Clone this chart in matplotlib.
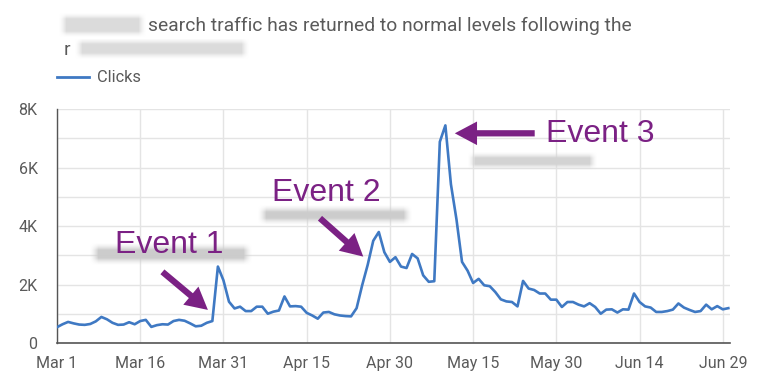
import numpy as np
import matplotlib
matplotlib.use("Agg")
import matplotlib.pyplot as plt
from matplotlib.patches import FancyArrowPatch

# ---------------- data ----------------
clicks = [550, 650, 730, 680, 640, 630, 660, 750, 900, 820,
          700, 630, 640, 720, 650, 760, 800, 560, 620, 650,
          640, 760, 800, 770, 680, 580, 600, 700, 760, 2620,
          2150, 1420, 1190, 1250, 1100, 1100, 1250, 1250, 1010, 1080,
          1120, 1600, 1260, 1270, 1250, 1040, 950, 840, 1050, 1070,
          990, 950, 930, 920, 1200, 1980, 2680, 3500, 3800, 3110,
          2780, 2940, 2620, 2570, 3050, 2900, 2320, 2100, 2120, 6880,
          7440, 5430, 4230, 2780, 2480, 2060, 2200, 1980, 1950, 1750,
          1500, 1430, 1410, 1260, 2130, 1870, 1820, 1700, 1700, 1490,
          1490, 1240, 1410, 1410, 1320, 1260, 1370, 1240, 1010, 1150,
          1160, 1050, 1160, 1150, 1700, 1410, 1260, 1220, 1070, 1070,
          1100, 1150, 1360, 1220, 1140, 1070, 1100, 1320, 1160, 1270,
          1160, 1200]
days = list(range(len(clicks)))  # days since Mar 1
x_tick_labels = ["Mar 1", "Mar 16", "Mar 31", "Apr 15", "Apr 30",
                 "May 15", "May 30", "Jun 14", "Jun 29"]
x_tick_step = 15
y_ticks = [0, 2000, 4000, 6000, 8000]
y_tick_labels = ["0", "2K", "4K", "6K", "8K"]
events = ["Event 1", "Event 2", "Event 3"]
series_name = "Clicks"
title_text = "search traffic has returned to normal levels following the"

# ---------------- style ----------------
W, H = 770, 385
BLUE = "#3f79c3"
PURPLE = "#7b2184"
GRID = "#e4e4e4"
TXT = "#5a5a5a"
FONT = "Roboto"

fig = plt.figure(figsize=(W / 100, H / 100), dpi=100)
fig.patch.set_facecolor("white")

def px(x, y):
    return x / W, 1 - y / H

ax_l, ax_r, ax_t, ax_b = 57, 730, 109, 343.3
ax = fig.add_axes([ax_l / W, 1 - ax_b / H, (ax_r - ax_l) / W, (ax_b - ax_t) / H])

ax.plot(days, clicks, color=BLUE, lw=1.9, solid_joinstyle="round", zorder=3)

XMAX = 121.3
ax.set_xlim(0, XMAX)
ax.set_ylim(0, 8000)
xt = [i * x_tick_step for i in range(len(x_tick_labels))]
ax.set_xticks(xt)
ax.set_xticklabels(x_tick_labels, fontfamily=FONT, fontsize=11.5, color=TXT)
ax.set_yticks(y_ticks)
ax.set_yticklabels(y_tick_labels, fontfamily=FONT, fontsize=11.5, color=TXT)
ax.set_yticks(np.arange(1000, 8000, 2000), minor=True)
ax.tick_params(axis="both", which="both", length=0)
ax.tick_params(axis="x", pad=9)
ax.tick_params(axis="y", pad=14)
ax.grid(True, which="both", color=GRID, lw=1.0, zorder=0)
for s in ["top", "right"]:
    ax.spines[s].set_visible(False)
ax.spines["left"].set_color("#555555")
ax.spines["bottom"].set_color("#555555")
ax.spines["left"].set_linewidth(1.0)
ax.spines["bottom"].set_linewidth(1.2)
ax.set_axisbelow(True)

# ---------------- blurred boxes ----------------
def blur_img(w, h, gray, alpha, r):
    xx = np.arange(w)
    yy = np.arange(h)
    axp = np.clip(np.minimum(xx + 1, w - xx) / r, 0, 1) ** 1.6
    ayp = np.clip(np.minimum(yy + 1, h - yy) / (r * 0.8), 0, 1) ** 1.6
    a = np.outer(ayp, axp) * alpha
    img = np.ones((h, w, 4))
    img[..., :3] = gray
    img[..., 3] = a
    return img

def blur_fig(x0, y0, x1, y1, gray=0.84, alpha=1.0, r=7):
    w, h = int(x1 - x0), int(y1 - y0)
    bax = fig.add_axes([x0 / W, 1 - y1 / H, w / W, h / H])
    bax.imshow(blur_img(w, h, gray, alpha, r), aspect="auto",
               interpolation="bilinear")
    bax.axis("off")

def blur_ax(x0, y0, x1, y1, gray=0.82, alpha=1.0, r=8):
    # pixel box -> data extent of main axes (drawn beneath texts/arrows)
    w, h = int(x1 - x0), int(y1 - y0)
    d0 = (x0 - ax_l) / (ax_r - ax_l) * XMAX
    d1 = (x1 - ax_l) / (ax_r - ax_l) * XMAX
    v0 = (ax_b - y1) / (ax_b - ax_t) * 8000
    v1 = (ax_b - y0) / (ax_b - ax_t) * 8000
    ax.imshow(blur_img(w, h, gray, alpha, r), aspect="auto",
              interpolation="bilinear", extent=(d0, d1, v0, v1), zorder=4)

# title
fig.text(*px(148, 31), title_text, fontfamily=FONT, fontsize=13.9,
         color=TXT, ha="left", va="baseline")
fig.text(*px(64, 55), "r", fontfamily=FONT, fontsize=13.9,
         color=TXT, ha="left", va="baseline")
blur_fig(59, 13, 146, 37, gray=0.86, r=8)
blur_fig(75, 39, 249, 59, gray=0.86, r=8)

# legend
fig.add_artist(plt.Line2D([57 / W, 89 / W], [1 - 77 / H, 1 - 77 / H],
                          color=BLUE, lw=2.0))
fig.text(*px(97, 82), series_name, fontfamily=FONT, fontsize=11.8,
         color=TXT, ha="left", va="baseline")

# blurred annotation notes (under the event labels)
blur_ax(90, 244, 252, 265, gray=0.80, r=9)
blur_ax(258, 206, 412, 225, gray=0.80, r=9)
blur_ax(468, 152, 597, 170, gray=0.83, r=8)

# event labels & arrows
ev_font = ["Liberation Sans", "DejaVu Sans"]
ax.text(10.45, 3080, events[0], color=PURPLE, fontsize=23,
        fontfamily=ev_font, ha="left", va="baseline", zorder=6)
ax.text(38.7, 4860, events[1], color=PURPLE, fontsize=23,
        fontfamily=ev_font, ha="left", va="baseline", zorder=6)
ax.text(88.2, 6880, events[2], color=PURPLE, fontsize=23,
        fontfamily=ev_font, ha="left", va="baseline", zorder=6)

arrow_style = "simple,head_length=16,head_width=17,tail_width=4.5"
for (t0, v0), (t1, v1) in [((19.0, 2440), (27.2, 1140)),
                           ((47.4, 4270), (55.2, 2960)),
                           ((86.1, 7170), (71.7, 7170))]:
    ar = FancyArrowPatch((t0, v0), (t1, v1), arrowstyle=arrow_style,
                         mutation_scale=1, color=PURPLE, lw=0,
                         shrinkA=0, shrinkB=0, zorder=6)
    ax.add_patch(ar)

ax.set_xlim(0, XMAX)
ax.set_ylim(0, 8000)

fig.savefig("out.png", dpi=100, facecolor="white")
